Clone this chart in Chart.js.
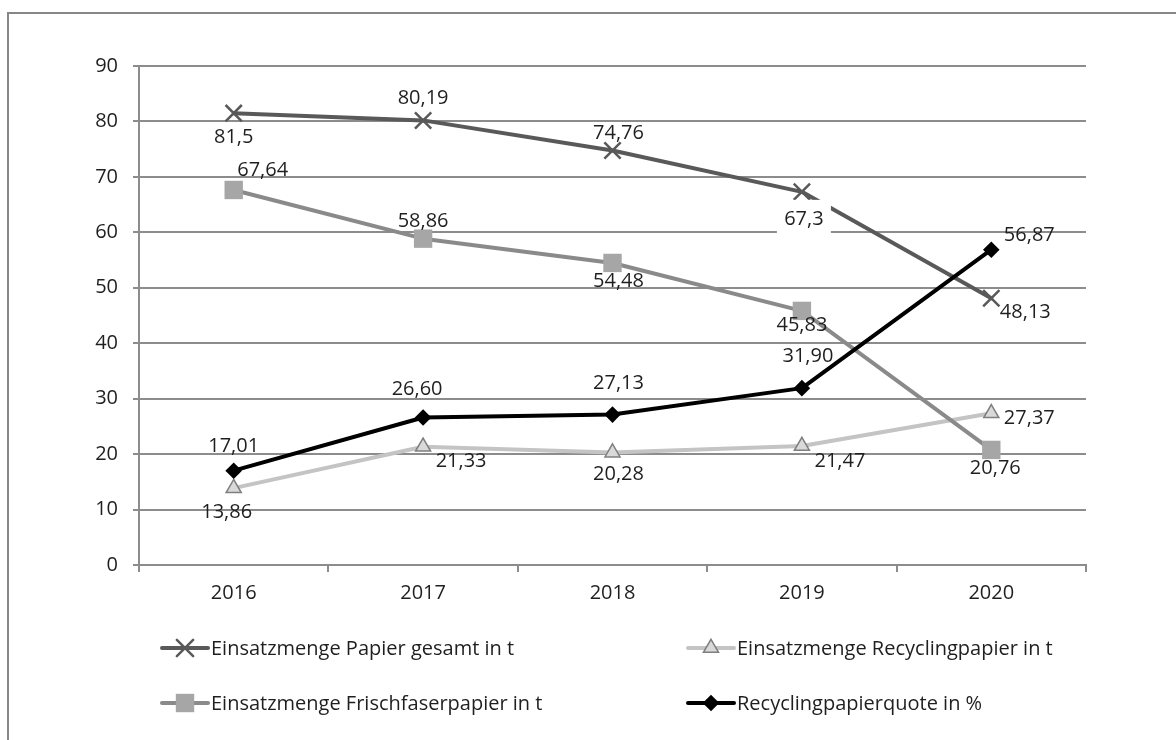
<!DOCTYPE html>
<html>
<head>
<meta charset="utf-8">
<script src="https://cdn.jsdelivr.net/npm/chart.js@4.4.1/dist/chart.umd.min.js"></script>
<style>
  html, body { margin: 0; padding: 0; background: #fff; }
  #wrap { position: relative; width: 1176px; height: 740px; }
</style>
</head>
<body>
<div id="wrap"><canvas id="chart" width="1176" height="740"></canvas></div>
<script>
// Daten
const jahre = ['2016', '2017', '2018', '2019', '2020'];
const papierGesamt = [81.5, 80.19, 74.76, 67.3, 48.13];
const recyclingpapier = [13.86, 21.33, 20.28, 21.47, 27.37];
const frischfaser = [67.64, 58.86, 54.48, 45.83, 20.76];
const recyclingquote = [17.01, 26.60, 27.13, 31.90, 56.87];
const yMin = 0, yMax = 90, yStep = 10;

const SCHRIFT = '"Open Sans", "Noto Sans", sans-serif';
const GROESSE = 20;
const TEXTFARBE = '#1f1f1f';
const GITTER = '#8c8c8c';

const komma1 = v => String(v).replace('.', ',');
const komma2 = v => v.toFixed(2).replace('.', ',');

// Versatz der Werte-Beschriftung zum Punkt (dx, dy), wie im Original
const versatzGesamt = [[0, 23], [0, -23], [6, -18], [2, 26], [34, 13]];
const versatzRecycling = [[-7, 23], [38, 14], [6, 21], [38, 14], [38, 4]];
const versatzFrisch = [[29, -21], [0, -18], [6, 17], [0, 13], [4, 17]];
const versatzQuote = [[0, -25], [-6, -29], [6, -32], [6, -33], [38, -15]];

const datasets = [
  {
    label: 'Einsatzmenge Papier gesamt in t',
    data: papierGesamt,
    borderColor: '#595959',
    pointStyle: 'crossRot', pointRadius: 11.5,
    pointBorderColor: '#595959', pointBackgroundColor: '#595959', pointBorderWidth: 2.5,
    order: 3,
    fmt: komma1, versatz: versatzGesamt, hintergrund: [false, false, false, true, false]
  },
  {
    label: 'Einsatzmenge Recyclingpapier in t',
    data: recyclingpapier,
    borderColor: '#c4c4c4',
    pointStyle: 'triangle', pointRadius: 8.7,
    pointBorderColor: '#7f7f7f', pointBackgroundColor: '#d9d9d9', pointBorderWidth: 1.5,
    order: 2,
    fmt: komma1, versatz: versatzRecycling
  },
  {
    label: 'Einsatzmenge Frischfaserpapier in t',
    data: frischfaser,
    borderColor: '#8a8a8a',
    pointStyle: 'rect', pointRadius: 13,
    pointBorderColor: '#a6a6a6', pointBackgroundColor: '#a6a6a6', pointBorderWidth: 0,
    order: 1,
    fmt: komma1, versatz: versatzFrisch
  },
  {
    label: 'Recyclingpapierquote in %',
    data: recyclingquote,
    borderColor: '#000000',
    pointStyle: 'rectRot', pointRadius: 8.3,
    pointBorderColor: '#000000', pointBackgroundColor: '#000000', pointBorderWidth: 0,
    order: 0,
    fmt: komma2, versatz: versatzQuote
  }
];
datasets.forEach(d => {
  d.borderWidth = 4;
  d.tension = 0;
  d.fill = false;
  d.borderJoinStyle = 'round';
  d.borderCapStyle = 'round';
  d.pointHoverRadius = d.pointRadius;
});

// Rahmen um das Diagramm (nur links und oben sichtbar)
const rahmen = {
  id: 'rahmen',
  beforeDraw(chart) {
    const ctx = chart.ctx;
    ctx.save();
    ctx.strokeStyle = '#878787';
    ctx.lineWidth = 2;
    ctx.beginPath();
    ctx.moveTo(8, 760);
    ctx.lineTo(8, 13);
    ctx.lineTo(1200, 13);
    ctx.stroke();
    ctx.restore();
  }
};

// Werte an den Punkten
const werte = {
  id: 'werte',
  afterDatasetsDraw(chart) {
    const ctx = chart.ctx;
    ctx.save();
    ctx.font = GROESSE + 'px ' + SCHRIFT;
    ctx.textAlign = 'center';
    ctx.textBaseline = 'middle';
    chart.data.datasets.forEach((ds, i) => {
      const meta = chart.getDatasetMeta(i);
      meta.data.forEach((pt, j) => {
        const txt = ds.fmt(ds.data[j]);
        const x = pt.x + ds.versatz[j][0];
        const y = pt.y + ds.versatz[j][1];
        if (ds.hintergrund && ds.hintergrund[j]) {
          ctx.fillStyle = '#ffffff';
          ctx.fillRect(x - 27, y - 18, 54, 37);
        }
        ctx.fillStyle = TEXTFARBE;
        ctx.fillText(txt, x, y + 1);
      });
    });
    ctx.restore();
  }
};

// Legende: Linie mit Markierung in der Mitte
const legende = {
  id: 'legende',
  afterDraw(chart) {
    const ctx = chart.ctx;
    const spalten = [162, 688];
    const zeilen = [648, 703];
    ctx.save();
    chart.data.datasets.forEach((ds, i) => {
      const x0 = spalten[i % 2];
      const y = zeilen[Math.floor(i / 2)];
      ctx.strokeStyle = ds.borderColor;
      ctx.lineWidth = 4;
      ctx.lineCap = 'round';
      ctx.beginPath();
      ctx.moveTo(x0, y);
      ctx.lineTo(x0 + 46, y);
      ctx.stroke();
      ctx.fillStyle = ds.pointBackgroundColor;
      ctx.strokeStyle = ds.pointBorderColor;
      ctx.lineWidth = ds.pointBorderWidth;
      Chart.helpers.drawPoint(ctx, {
        pointStyle: ds.pointStyle, radius: ds.pointRadius, rotation: 0,
        borderWidth: ds.pointBorderWidth
      }, x0 + 23, y);
      ctx.fillStyle = TEXTFARBE;
      ctx.font = GROESSE + 'px ' + SCHRIFT;
      ctx.textAlign = 'left';
      ctx.textBaseline = 'middle';
      ctx.fillText(ds.label, x0 + 49, y + 1);
    });
    ctx.restore();
  }
};

new Chart(document.getElementById('chart'), {
  type: 'line',
  data: { labels: jahre, datasets: datasets },
  options: {
    responsive: false,
    animation: false,
    events: [],
    layout: { padding: { top: 66, right: 90, bottom: 0, left: 0 } },
    plugins: {
      legend: { display: false },
      tooltip: { enabled: false }
    },
    scales: {
      y: {
        min: yMin, max: yMax,
        ticks: { stepSize: yStep, color: TEXTFARBE, font: { family: SCHRIFT, size: GROESSE }, padding: 15 },
        grid: { color: GITTER, lineWidth: 2, tickLength: 6 },
        border: { display: true, color: GITTER, width: 2 },
        afterFit: s => { s.width = 139; }
      },
      x: {
        offset: true,
        ticks: { color: TEXTFARBE, font: { family: SCHRIFT, size: GROESSE }, padding: 9 },
        grid: { offset: true, drawOnChartArea: false, tickLength: 7, color: GITTER, lineWidth: 2 },
        border: { display: true, color: GITTER, width: 2 },
        afterFit: s => { s.height = 175; }
      }
    }
  },
  plugins: [rahmen, werte, legende]
});
</script>
</body>
</html>
